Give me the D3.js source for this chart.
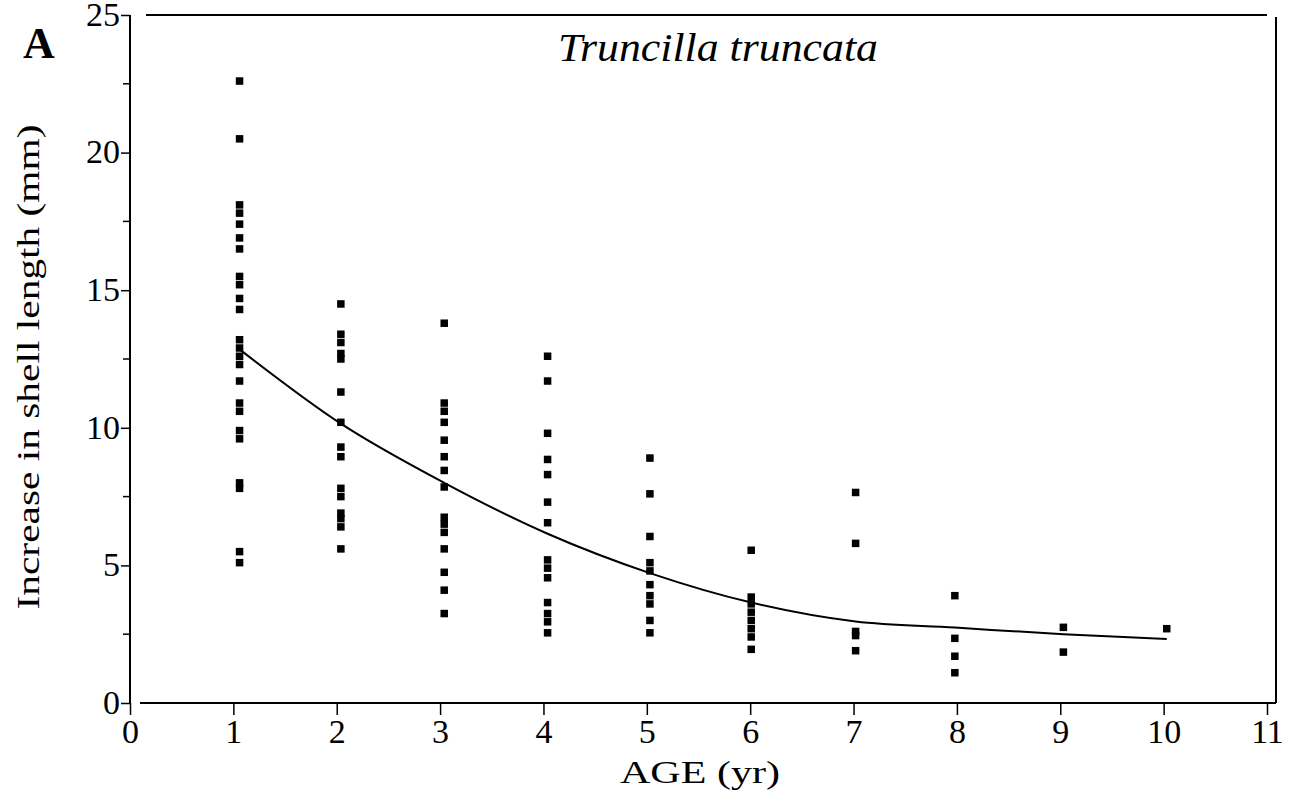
<!DOCTYPE html>
<html>
<head>
<meta charset="utf-8">
<script src="https://cdn.jsdelivr.net/npm/d3@7"></script>
<style>
  body { margin: 0; background: #fff; }
  text { font-family: "Liberation Serif", "DejaVu Serif", serif; fill: #000; }
</style>
</head>
<body>
<svg id="chart" width="1297" height="800"></svg>
<script>
// column positions (age, yr)
const ageCols = [1.06, 2.04, 3.04, 4.04, 5.03, 6.01, 7.02, 7.98, 9.03, 10.03];

// increase in shell length (mm), one list per age
const growth = [
  [22.6, 20.5, 18.1, 17.8, 17.4, 16.9, 16.5, 15.5, 15.2, 14.7, 14.3, 13.2, 12.9, 12.6, 12.3, 11.7, 10.9, 10.6, 9.9, 9.6, 8.0, 7.8, 5.5, 5.1],
  [14.5, 13.4, 13.1, 12.7, 12.5, 11.3, 10.2, 9.3, 8.95, 7.8, 7.5, 6.9, 6.7, 6.4, 5.6],
  [13.8, 10.9, 10.6, 10.2, 9.55, 8.95, 8.45, 7.85, 6.75, 6.5, 6.2, 5.6, 4.75, 4.1, 3.25],
  [12.6, 11.7, 9.8, 8.85, 8.3, 7.3, 6.55, 5.2, 4.9, 4.55, 3.65, 3.25, 2.95, 2.55],
  [8.9, 7.6, 6.05, 5.1, 4.8, 4.3, 3.9, 3.6, 3.0, 2.55],
  [5.55, 3.85, 3.6, 3.3, 3.0, 2.7, 2.4, 1.95],
  [7.65, 5.8, 2.6, 2.45, 1.9],
  [3.9, 2.35, 1.7, 1.1],
  [2.75, 1.85],
  [2.7]
];

// fitted curve, one value per age column
const fitted = [12.85, 10.15, 8.0, 6.15, 4.72, 3.65, 2.96, 2.74, 2.5, 2.33];

const xTicks = d3.range(0, 12);
const yTicks = [0, 5, 10, 15, 20, 25];
const yMinor = [2.5, 7.5, 12.5, 17.5, 22.5];

const svg = d3.select('#chart');

let x = d3.scaleLinear().domain([0, 11]).range([130, 1267]);
let y = d3.scaleLinear().domain([0, 25]).range([703, 15]);

/*frame*/
let frame = svg.append('g').attr('stroke', '#000').attr('stroke-width', 2);
frame.append('line').attr('x1', x(0)).attr('x2', x(0)).attr('y1', y(25)).attr('y2', y(0));
frame.append('line').attr('x1', x(0) + 10).attr('x2', x(11) + 9).attr('y1', y(0)).attr('y2', y(0));
frame.append('line').attr('x1', x(0) + 16).attr('x2', x(11)).attr('y1', y(25)).attr('y2', y(25));
frame.append('line').attr('x1', x(11) + 9).attr('x2', x(11) + 9).attr('y1', y(25) + 2).attr('y2', y(0));

/*axes*/
let xAxis = svg.append('g')
  .attr('transform', `translate(0,${y(0)})`)
  .call(d3.axisBottom(x).tickValues(xTicks).tickSize(12).tickPadding(4).tickFormat(d3.format('d')));
xAxis.select('.domain').remove();
xAxis.selectAll('line').attr('stroke-width', 1.5);
xAxis.selectAll('text').style('font-size', '34px').attr('dy', '0.72em');

let yAxis = svg.append('g')
  .attr('transform', `translate(${x(0)},0)`)
  .call(d3.axisLeft(y).tickValues(yTicks).tickSize(9).tickPadding(1));
yAxis.select('.domain').remove();
yAxis.selectAll('line').attr('stroke-width', 1.5);
yAxis.selectAll('text').style('font-size', '34px').attr('dy', '0.3em');

svg.append('g').selectAll('line')
  .data(yMinor)
  .enter()
  .append('line')
  .attr('x1', x(0) - 7).attr('x2', x(0))
  .attr('y1', d => y(d)).attr('y2', d => y(d))
  .attr('stroke', '#000').attr('stroke-width', 1.5);

/*points*/
let pts = [];
growth.forEach((col, i) => col.forEach(v => pts.push({age: ageCols[i], v: v})));
svg.append('g').selectAll('rect')
  .data(pts)
  .enter()
  .append('rect')
  .attr('x', d => x(d.age) - 3.75)
  .attr('y', d => y(d.v) - 3.75)
  .attr('width', 7.5)
  .attr('height', 7.5)
  .attr('fill', '#000');

/*curve*/
let line = d3.line()
  .x((d, i) => x(ageCols[i]))
  .y(d => y(d))
  .curve(d3.curveMonotoneX);
svg.append('path')
  .datum(fitted)
  .attr('d', line)
  .attr('fill', 'none')
  .attr('stroke', '#000')
  .attr('stroke-width', 2);

/*labels*/
svg.append('text').attr('x', 23).attr('y', 58)
  .style('font-size', '44px').style('font-weight', 'bold').text('A');
svg.append('text').attr('x', 718).attr('y', 61).attr('text-anchor', 'middle')
  .attr('textLength', 320).attr('lengthAdjust', 'spacingAndGlyphs')
  .style('font-size', '40px').style('font-style', 'italic').text('Truncilla truncata');
svg.append('text').attr('x', 700).attr('y', 783).attr('text-anchor', 'middle')
  .attr('textLength', 160).attr('lengthAdjust', 'spacingAndGlyphs')
  .style('font-size', '31px').text('AGE (yr)');
svg.append('text')
  .attr('transform', 'translate(39,367) rotate(-90)')
  .attr('text-anchor', 'middle')
  .attr('textLength', 485).attr('lengthAdjust', 'spacingAndGlyphs')
  .style('font-size', '32px').text('Increase in shell length (mm)');
</script>
</body>
</html>
